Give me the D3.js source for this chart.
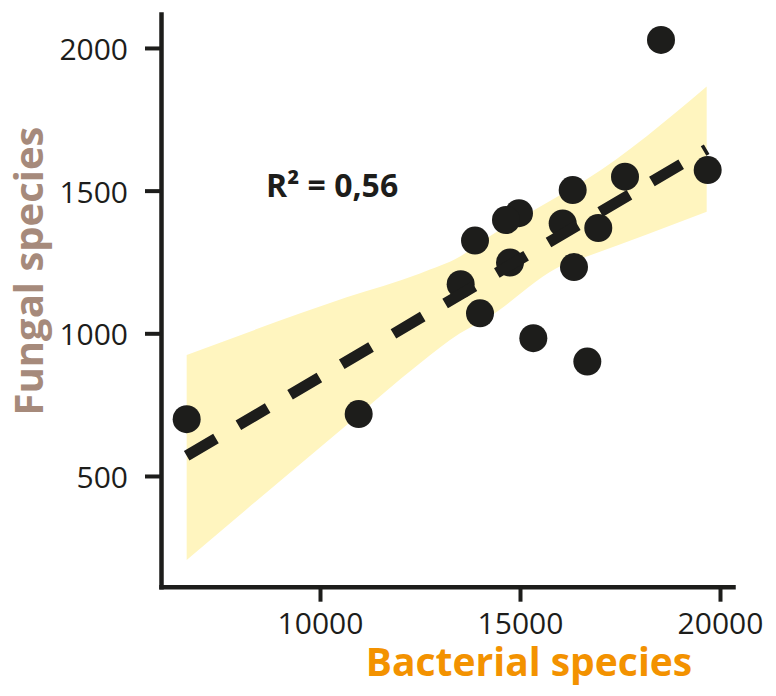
<!DOCTYPE html>
<html>
<head>
<meta charset="utf-8">
<script src="https://cdn.jsdelivr.net/npm/d3@7"></script>
<style>
  html, body { margin: 0; padding: 0; background: #fff; }
  svg { display: block; }
  .tick text { font-family: 'Open Sans', sans-serif; font-size: 30px; fill: #1d1d1b; }
</style>
</head>
<body>
<div id="render"></div>
<script>
// values
const bacteria = [6667, 10967, 18525, 19692, 17625, 16317, 14975, 14650, 13875,
  16067, 16957, 14750, 16350, 13517, 14000, 15333, 16683];
const fungi = [699, 717, 2028, 1572, 1549, 1502, 1421, 1397, 1325,
  1385, 1369, 1248, 1232, 1172, 1070, 983, 901];

const fitX = [6667, 19667];
const fitY = [571, 1645];

const bandX = [6667, 10667, 12500, 13500, 14167, 16083, 16667, 19667];
const bandUpper = [924, 1126, 1210, 1269, 1333, 1491, 1540, 1865];
const bandLower = [206, 679, 895, 1000, 1052, 1240, 1269, 1426];

const xTicks = [10000, 15000, 20000];
const yTicks = [500, 1000, 1500, 2000];

const width = 776, height = 696;
const ink = '#1d1d1b';

const attrs = (sel, _attrs)=>{
  for (const i in _attrs) {
    sel.attr(i, _attrs[i]);
  }
  return sel;
};

const x = d3.scaleLinear().domain([6025, 20325]).range([161, 733]);
const y = d3.scaleLinear().domain([112, 2119]).range([586.7, 14]);

const svg = d3.select('#render').append('svg');
attrs(svg, { width, height, xmlns: 'http://www.w3.org/2000/svg' });

// confidence band
const band = bandX.map((v, i)=>({ x: v, lo: bandLower[i], hi: bandUpper[i] }));
const area = d3.area()
  .x(d=>x(d.x))
  .y0(d=>y(d.lo))
  .y1(d=>y(d.hi))
  .curve(d3.curveMonotoneX);
attrs(svg.append('path').datum(band), {
  d: area,
  fill: '#fff5bf',
  stroke: 'none',
});

// points
svg.append('g')
  .selectAll('circle')
  .data(bacteria.map((v, i)=>[v, fungi[i]]))
  .join('circle')
  .attr('cx', d=>x(d[0]))
  .attr('cy', d=>y(d[1]))
  .attr('r', 14)
  .attr('fill', ink);

// regression line
const line = d3.line().x(d=>x(d[0])).y(d=>y(d[1]));
attrs(svg.append('path').datum(fitX.map((v, i)=>[v, fitY[i]])), {
  d: line,
  fill: 'none',
  stroke: ink,
  'stroke-width': 11,
  'stroke-dasharray': '34,26',
});

// axes
const xAxis = svg.append('g')
  .attr('transform', `translate(0,${y.range()[0]})`)
  .call(d3.axisBottom(x).tickValues(xTicks).tickSize(15).tickSizeOuter(0).tickFormat(d3.format('d')));
const yAxis = svg.append('g')
  .attr('transform', `translate(${x.range()[0]},0)`)
  .call(d3.axisLeft(y).tickValues(yTicks).tickSize(16).tickSizeOuter(0).tickFormat(d3.format('d')));

[xAxis, yAxis].forEach(g=>{
  g.select('.domain').attr('stroke', ink).attr('stroke-width', 4.5).attr('stroke-linecap', 'square');
  g.selectAll('.tick line').attr('stroke', ink).attr('stroke-width', 4);
});
xAxis.selectAll('.tick text').attr('y', 47).attr('dy', 0);
yAxis.selectAll('.tick text').attr('x', -33).attr('dy', '0.38em');

// axis titles
attrs(svg.append('text'), {
  x: 529, y: 676,
  'text-anchor': 'middle',
  'font-family': 'Open Sans, sans-serif',
  'font-weight': 700,
  'font-size': 39,
  fill: '#f39200',
}).text('Bacterial species');

attrs(svg.append('text'), {
  transform: 'translate(43,271) rotate(-90)',
  'text-anchor': 'middle',
  'font-family': 'Open Sans, sans-serif',
  'font-weight': 700,
  'font-size': 40,
  fill: '#a68a7b',
}).text('Fungal species');

// annotation
attrs(svg.append('text'), {
  x: 266, y: 197,
  'font-family': 'Open Sans, sans-serif',
  'font-weight': 700,
  'font-size': 32,
  fill: ink,
}).text('R² = 0,56');
</script>
</body>
</html>
